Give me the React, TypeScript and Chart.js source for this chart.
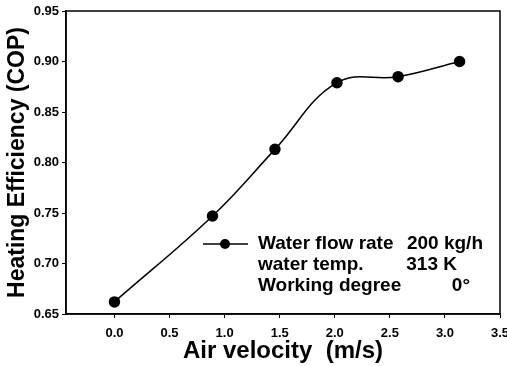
import React, { useEffect, useRef } from "react";
import { Chart, registerables } from "chart.js";

Chart.register(...registerables);

const airVelocity = [0, 0.89, 1.457, 2.02, 2.575, 3.133];
const heatingCOP = [0.662, 0.747, 0.813, 0.879, 0.885, 0.9];
const xTickValues = [0, 0.5, 1.0, 1.5, 2.0, 2.5, 3.0, 3.5];
const yTickValues = [0.65, 0.7, 0.75, 0.8, 0.85, 0.9, 0.95];
const legendLabels = ["Water flow rate", "water temp.", "Working degree"];
const legendValues = ["200 kg/h", "313 K", "0°"];

const FONT = "'Liberation Sans', Arial, Helvetica, sans-serif";

const framePlugin = {
  id: "frame",
  afterDraw(chart: any) {
    const { ctx, chartArea } = chart;
    ctx.save();
    ctx.strokeStyle = "#000";
    ctx.lineWidth = 1.5;
    ctx.strokeRect(chartArea.left, chartArea.top, chartArea.right - chartArea.left, chartArea.bottom - chartArea.top);

    // legend box
    const lx = chartArea.left + 137;
    const ly = chartArea.top + 233;
    ctx.lineWidth = 1.5;
    ctx.beginPath();
    ctx.moveTo(lx, ly);
    ctx.lineTo(lx + 45, ly);
    ctx.stroke();
    ctx.fillStyle = "#000";
    ctx.beginPath();
    ctx.arc(lx + 22, ly, 5, 0, Math.PI * 2);
    ctx.fill();

    ctx.font = `bold 19px ${FONT}`;
    ctx.textBaseline = "middle";
    ctx.textAlign = "left";
    const tx = lx + 55;
    const lineH = 21;
    legendLabels.forEach((t, i) => {
      ctx.fillText(t, tx, ly + i * lineH);
    });
    ctx.textAlign = "right";
    const rightEdges = [lx + 280, lx + 254, lx + 267];
    legendValues.forEach((t, i) => {
      ctx.fillText(t, rightEdges[i], ly + i * lineH);
    });
    ctx.restore();
  },
};

export default function App() {
  const ref = useRef<HTMLCanvasElement | null>(null);

  useEffect(() => {
    document.body.style.margin = "0";
    const canvas = ref.current;
    if (!canvas) return;
    const chart = new Chart(canvas, {
      type: "line",
      data: {
        datasets: [
          {
            label: "COP",
            data: airVelocity.map((x, i) => ({ x, y: heatingCOP[i] })),
            borderColor: "#000",
            backgroundColor: "#000",
            borderWidth: 1.5,
            pointRadius: 5,
            pointBackgroundColor: "#000",
            pointBorderColor: "#000",
            tension: 0.4,
            fill: false,
          },
        ],
      },
      options: {
        animation: false,
        responsive: true,
        maintainAspectRatio: false,
        layout: { padding: { top: 11, right: 7, left: 0, bottom: 0 } },
        plugins: { legend: { display: false }, tooltip: { enabled: false } },
        scales: {
          x: {
            type: "linear",
            min: -0.44,
            max: 3.5,
            afterBuildTicks: (scale: any) => {
              scale.ticks = xTickValues.map((v) => ({ value: v }));
            },
            afterFit: (scale: any) => {
              scale.height = 52;
              scale.paddingLeft = 0;
              scale.paddingRight = 0;
            },
            grid: { drawOnChartArea: false, drawTicks: true, tickLength: 4, color: "#000", lineWidth: 1 },
            border: { display: true, color: "#000", width: 1.5 },
            ticks: {
              color: "#000",
              padding: 8,
              maxRotation: 0,
              font: { family: FONT, size: 13, weight: "bold" },
              callback: (v: any) => Number(v).toFixed(1),
            },
            title: {
              display: true,
              text: "Air velocity  (m/s)",
              color: "#000",
              font: { family: FONT, size: 24, weight: "bold" },
              padding: { top: 0, bottom: 0 },
            },
          },
          y: {
            type: "linear",
            min: 0.65,
            max: 0.95,
            afterBuildTicks: (scale: any) => {
              scale.ticks = yTickValues.map((v) => ({ value: v }));
            },
            afterFit: (scale: any) => {
              scale.width = 66;
              scale.paddingTop = 0;
              scale.paddingBottom = 0;
            },
            grid: { drawOnChartArea: false, drawTicks: true, tickLength: 4, color: "#000", lineWidth: 1 },
            border: { display: true, color: "#000", width: 1.5 },
            ticks: {
              color: "#000",
              padding: 3,
              font: { family: FONT, size: 13, weight: "bold" },
              callback: (v: any) => Number(v).toFixed(2),
            },
            title: {
              display: true,
              text: "Heating Efficiency (COP)",
              color: "#000",
              font: { family: FONT, size: 23, weight: "bold" },
              padding: { top: 4, bottom: 0 },
            },
          },
        },
      },
      plugins: [framePlugin],
    } as any);
    return () => chart.destroy();
  }, []);

  return (
    <div style={{ position: "absolute", left: 0, top: 0, width: 507, height: 366, background: "#fff" }}>
      <canvas ref={ref} />
    </div>
  );
}
